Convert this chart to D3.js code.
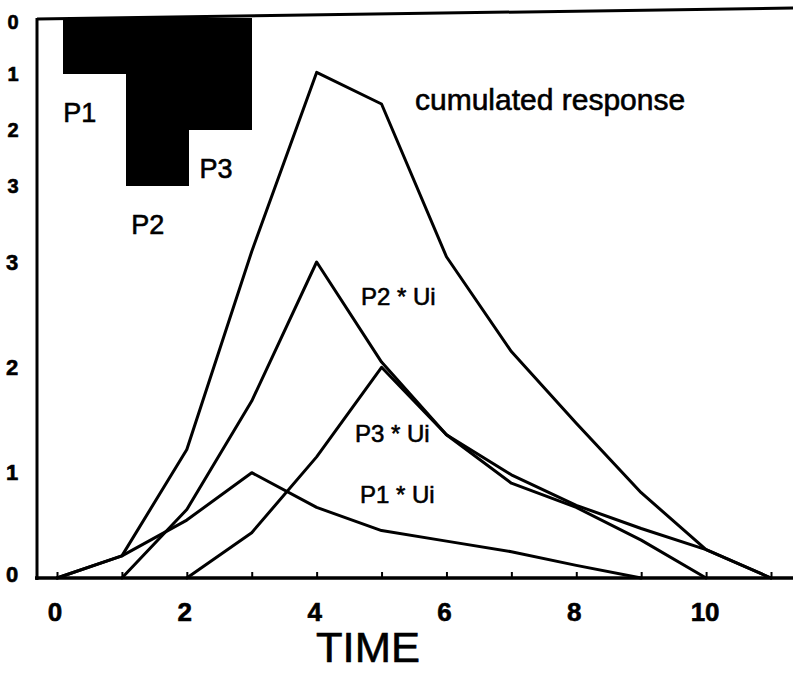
<!DOCTYPE html>
<html>
<head>
<meta charset="utf-8">
<script src="https://cdn.jsdelivr.net/npm/d3@7"></script>
<style>
  html, body { margin: 0; padding: 0; background: #fff; }
  svg { display: block; }
  text { font-family: "Liberation Sans", Arial, Helvetica, sans-serif; fill: #000; stroke: #000; stroke-width: 0.6; }
</style>
</head>
<body>
<svg id="chart" width="793" height="673"></svg>
<script>
// ---- data ----
const timeTicks = [0,1,2,3,4,5,6,7,8,9,10,11];
const timeLabels = [0,2,4,6,8,10];
const flowTicks = [0,1,2,3];
const rainTicks = [0,1,2,3];

const rainNames = ["P1","P2","P3"];
const rainValues = [1, 3, 2];

const cumT = [0,1,2,3,4,5,6,7,8,9,10,11];
const cumV = [0,0.21,1.22,3.1,4.8,4.5,3.05,2.15,1.47,0.81,0.27,0];

const p1T = [0,1,2,3,4,5,6,7,8,9];
const p1V = [0,0.21,0.55,1.0,0.67,0.45,0.35,0.25,0.12,0];

const p2T = [1,2,3,4,5,6,7,8,9,10];
const p2V = [0,0.65,1.68,3.0,2.05,1.36,0.9,0.67,0.36,0];

const p3T = [2,3,4,5,6,7,8,9,10,11];
const p3V = [0,0.43,1.15,2.0,1.36,0.98,0.69,0.47,0.27,0];

const seriesLabels = ["cumulated response","P2 * Ui","P3 * Ui","P1 * Ui"];
const axisTitle = "TIME";

// ---- scales ----
const svg = d3.select("#chart");
const x = d3.scaleLinear().domain([0, 11]).range([57, 771]);
const y = d3.scaleLinear().domain([0, 3]).range([578, 262]);
const yr = d3.scaleLinear().domain([0, 3]).range([18, 186]);
const xr = d3.scaleLinear().domain([0, 3]).range([x(0.1), x(3)]);

// ---- frame ----
svg.append("line").attr("x1", 37).attr("y1", 19).attr("x2", 793).attr("y2", 8)
  .attr("stroke", "#000").attr("stroke-width", 3);
svg.append("line").attr("x1", 37).attr("y1", 18).attr("x2", 37).attr("y2", 580)
  .attr("stroke", "#000").attr("stroke-width", 3);

// ---- rainfall hyetograph (inverted, top) ----
svg.append("g").selectAll("rect").data(rainValues).join("rect")
  .attr("x", (d, i) => xr(i))
  .attr("width", (d, i) => xr(i + 1) - xr(i) + 0.5)
  .attr("y", yr(0))
  .attr("height", d => yr(d) - yr(0))
  .attr("fill", "#000")
  .attr("shape-rendering", "crispEdges");

const rainLabelPos = [[0.35, 1.7], [1.4, 3.7], [2.45, 2.7]];
svg.append("g").selectAll("text").data(rainNames).join("text")
  .attr("x", (d, i) => x(rainLabelPos[i][0]))
  .attr("y", (d, i) => yr(rainLabelPos[i][1]))
  .attr("text-anchor", "middle")
  .attr("dominant-baseline", "central")
  .attr("font-size", 27)
  .text(d => d);

// rain axis labels (left, top)
svg.append("g").selectAll("text").data(rainTicks).join("text")
  .attr("x", 13)
  .attr("y", d => yr(d) + (d === 0 ? 4 : 0))
  .attr("text-anchor", "middle")
  .attr("dominant-baseline", "central")
  .attr("font-size", 20)
  .attr("font-weight", "bold")
  .text(d => d);

// flow axis labels (left, bottom)
svg.append("g").selectAll("text").data(flowTicks).join("text")
  .attr("x", 12)
  .attr("y", d => y(d) - (d === 0 ? 4 : 0))
  .attr("text-anchor", "middle")
  .attr("dominant-baseline", "central")
  .attr("font-size", 22)
  .attr("font-weight", "bold")
  .text(d => d);

// ---- x axis ----
const xAxis = d3.axisBottom(x).tickValues(timeTicks).tickSize(-6).tickFormat("");
const gx = svg.append("g").attr("transform", `translate(0,${y(0)})`).call(xAxis);
gx.select(".domain").remove();
gx.selectAll(".tick line").attr("stroke", "#000").attr("stroke-width", 2);
svg.append("line").attr("x1", 35).attr("x2", 793).attr("y1", y(0)).attr("y2", y(0))
  .attr("stroke", "#000").attr("stroke-width", 3.5);

svg.append("g").selectAll("text").data(timeLabels).join("text")
  .attr("x", d => x(d) - (d >= 10 ? 1 : 2))
  .attr("y", 612)
  .attr("text-anchor", "middle")
  .attr("dominant-baseline", "central")
  .attr("font-size", 26)
  .attr("font-weight", "bold")
  .text(d => d);

svg.append("text")
  .attr("x", 368).attr("y", 662)
  .attr("text-anchor", "middle")
  .attr("font-size", 42)
  .attr("textLength", 104)
  .attr("lengthAdjust", "spacingAndGlyphs")
  .text(axisTitle);

// ---- response lines ----
const line = d3.line().x(d => x(d[0])).y(d => y(d[1]));
const series = [
  d3.zip(cumT, cumV),
  d3.zip(p1T, p1V),
  d3.zip(p2T, p2V),
  d3.zip(p3T, p3V)
];
svg.append("g").selectAll("path").data(series).join("path")
  .attr("d", line)
  .attr("fill", "none")
  .attr("stroke", "#000")
  .attr("stroke-width", 3)
  .attr("stroke-linejoin", "round")
  .attr("stroke-linecap", "round");

// ---- series labels ----
const labelPos = [[415, 110, 30], [361, 305, 24], [355, 442, 24], [360, 503, 24]];
svg.append("g").selectAll("text").data(seriesLabels).join("text")
  .attr("x", (d, i) => labelPos[i][0])
  .attr("y", (d, i) => labelPos[i][1])
  .attr("font-size", (d, i) => labelPos[i][2])
  .text(d => d);
</script>
</body>
</html>
